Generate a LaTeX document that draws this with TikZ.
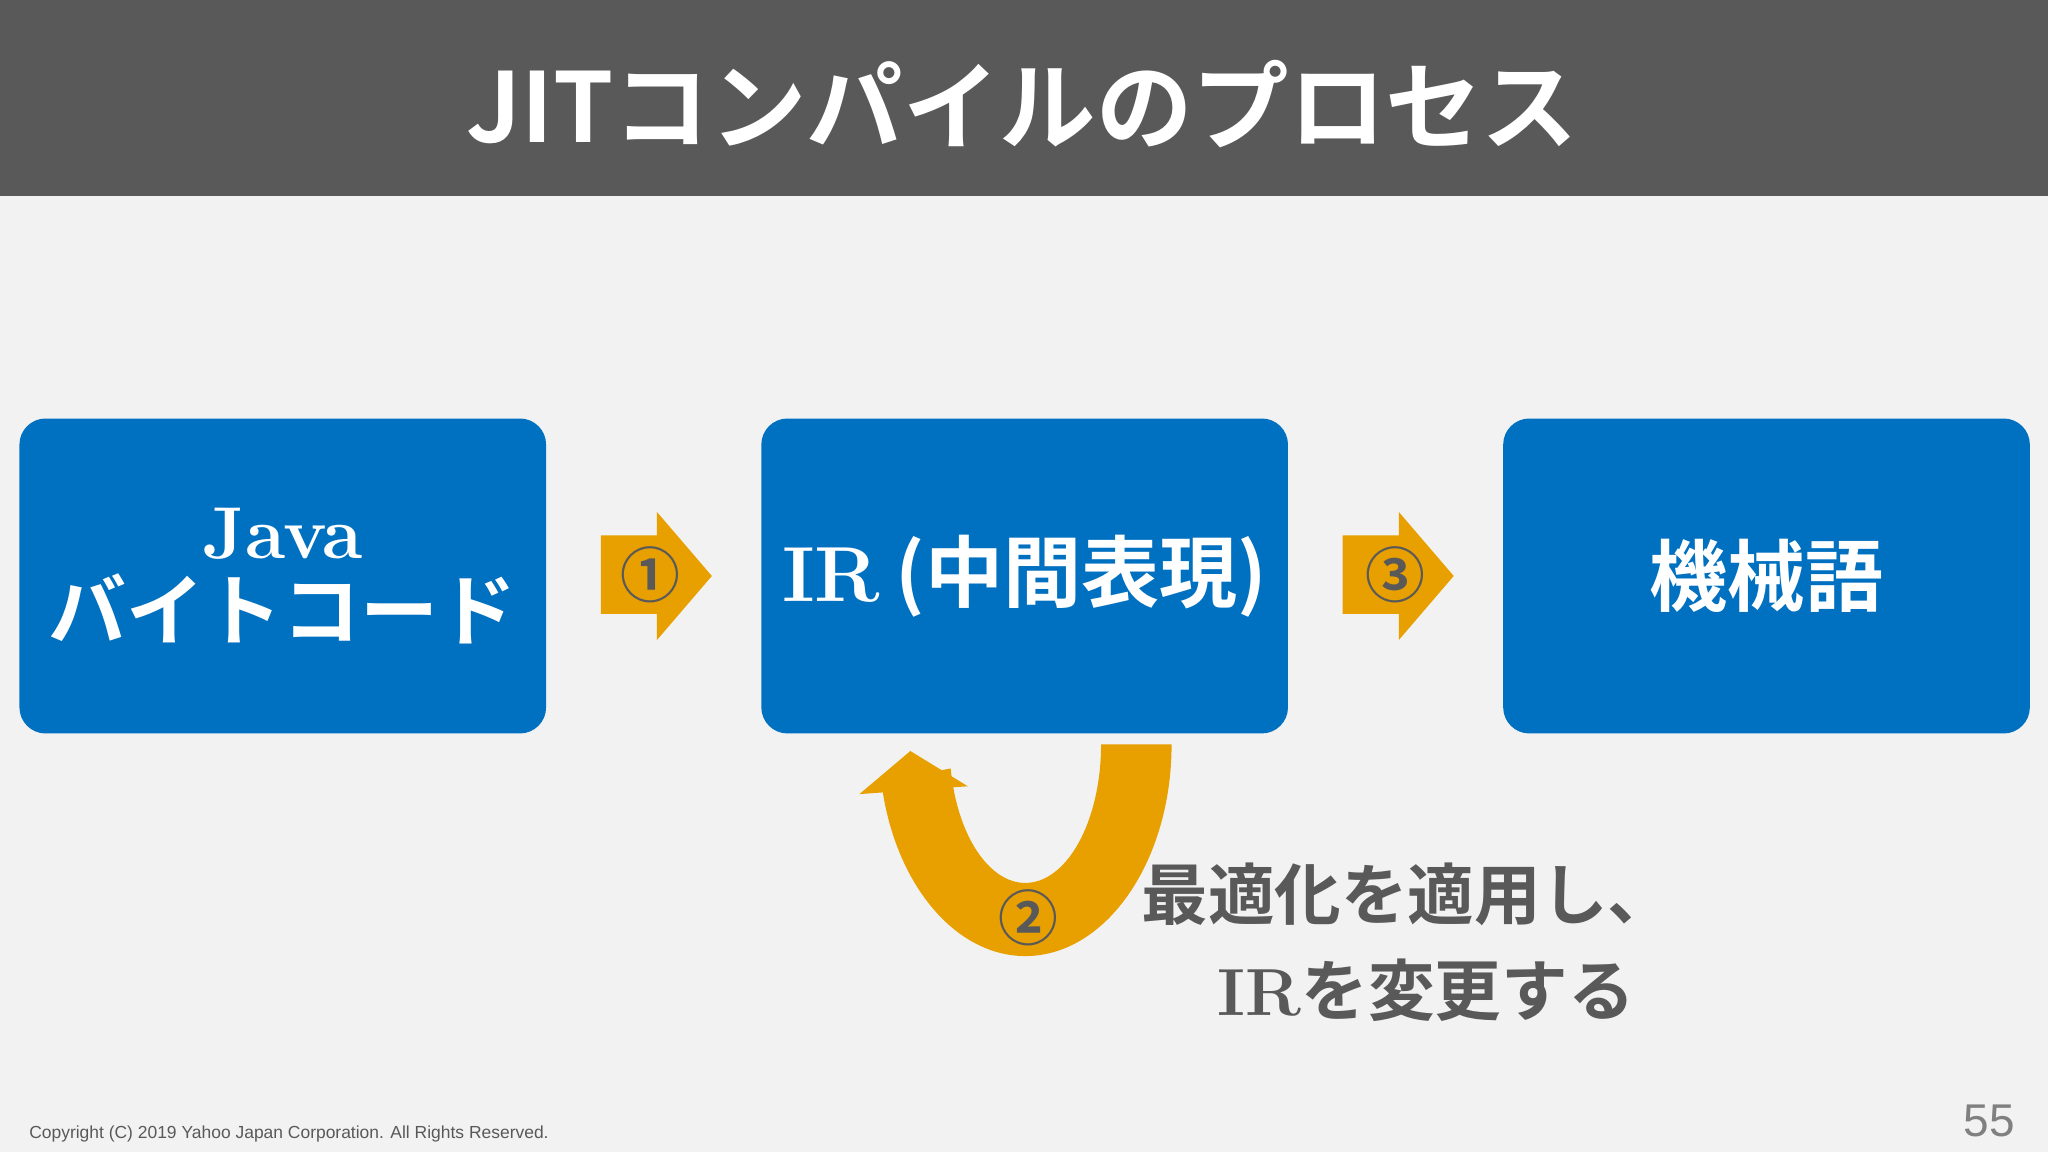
\documentclass[tikz,border=0pt]{standalone}
\usepackage{fontspec}
\usetikzlibrary{calc}
\newfontfamily\cjkb{Noto Sans CJK JP Bold}
\setsansfont{Liberation Sans}
\definecolor{bar}{HTML}{595959}
\definecolor{bg}{HTML}{F2F2F2}
\definecolor{boxblue}{HTML}{0070C0}
\definecolor{org}{HTML}{E8A000}
\definecolor{txt}{HTML}{595959}
\tikzset{
  bluebox/.style={fill=boxblue,rounded corners=0.2cm,minimum width=4.03cm,minimum height=2.41cm,inner sep=0pt,text=white,align=center},
  orgarrow/.style={fill=org},
  circnum/.style={text=txt,font=\cjkb\fontsize{13}{13}\selectfont,inner sep=0pt}
}
\begin{document}
\begin{tikzpicture}[x=0.01cm,y=0.01cm]
\useasboundingbox (0,0) rectangle (1568,882);
\fill[bg] (0,0) rectangle (1568,882);
\fill[bar] (0,732) rectangle (1568,882);
\node[text=white,font=\cjkb\fontsize{21}{21}\selectfont] (title) at (783,802) {JITコンパイルのプロセス};
% boxes
\node[bluebox] (b1) at (216.5,441) {{\fontsize{16}{18}\selectfont\bfseries Java}\\[2pt]{\cjkb\fontsize{17}{20}\selectfont バイトコード}};
\node[bluebox] (b2) at (784.5,441) {{\fontsize{17}{18}\selectfont\bfseries IR} {\cjkb\fontsize{17}{20}\selectfont (中間表現)}};
\node[bluebox] (b3) at (1352.5,441) {\cjkb\fontsize{17}{20}\selectfont 機械語};
% arrows
\fill[orgarrow] (460,412) -- (503,412) -- (503,392) -- (545,441) -- (503,490) -- (503,472) -- (460,472) -- cycle;
\fill[orgarrow] (1028,412) -- (1071,412) -- (1071,392) -- (1113,441) -- (1071,490) -- (1071,472) -- (1028,472) -- cycle;
\node[circnum] (n1) at (498,442) {①};
\node[circnum] (n3) at (1068,442) {③};
% U arrow
\fill[orgarrow] (897,312) arc[start angle=0,end angle=-170,x radius=112,y radius=162]
  -- ($(785,312)+(-170:58 and 106)$) arc[start angle=-170,end angle=0,x radius=58,y radius=106] -- cycle;
\fill[orgarrow] (658,274) -- (697,307) -- (741,280) -- cycle;
\node[circnum] (n2) at (787,179) {②};
\node[text=txt,font=\cjkb\fontsize{14.5}{16}\selectfont,anchor=center] (t1) at (1078,197) {最適化を適用し、};
\node[text=txt,font=\cjkb\fontsize{14.5}{16}\selectfont,anchor=center] (t2) at (1092,124) {{\rmfamily\bfseries IR}を変更する};
\node[text=txt,font=\sffamily\fontsize{3.8}{4}\selectfont,anchor=west] (copy) at (10,14) {Copyright (C) 2019 Yahoo Japan Corporation. All Rights Reserved.};
\node[text=gray,font=\sffamily\fontsize{10}{10}\selectfont,anchor=east] (pg) at (1555,24) {55};
\end{tikzpicture}
\end{document}
